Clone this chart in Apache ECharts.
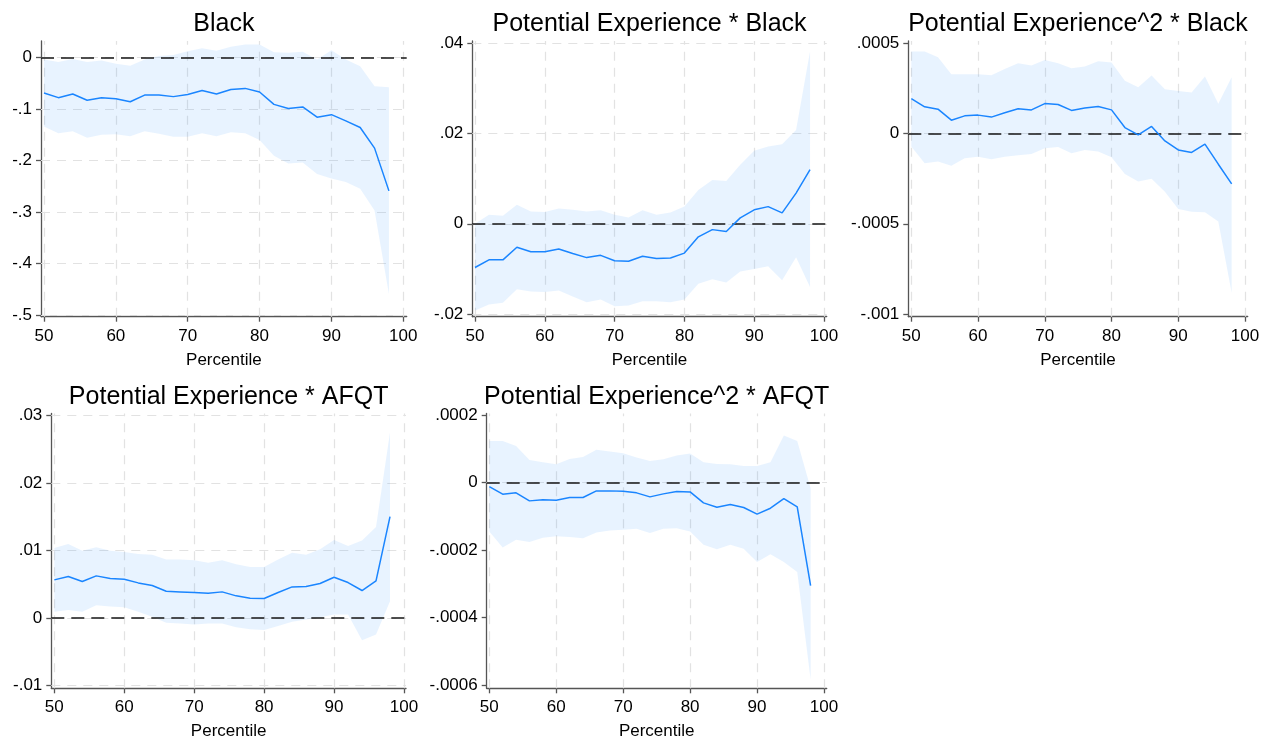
<!DOCTYPE html>
<html>
<head>
<meta charset="utf-8">
<script src="https://cdn.jsdelivr.net/npm/echarts@6.0.0/dist/echarts.min.js"></script>
<style>
  html, body { margin: 0; padding: 0; background: #fff; }
  #chart { width: 1276px; height: 745px; }
</style>
</head>
<body>
<div id="chart"></div>
<script>
const percentiles = [50, 52, 54, 56, 58, 60, 62, 64, 66, 68, 70, 72, 74, 76, 78, 80, 82, 84, 86, 88, 90, 92, 94, 96, 98];
const xTicks = [50, 60, 70, 80, 90, 100];

// Black
const blackCoef = [-0.069, -0.078, -0.071, -0.083, -0.078, -0.080, -0.086, -0.073, -0.073, -0.076, -0.072, -0.064, -0.071, -0.062, -0.060, -0.067, -0.091, -0.099, -0.096, -0.116, -0.111, -0.123, -0.136, -0.176, -0.259];
const blackHi = [-0.004, -0.009, -0.003, -0.009, -0.006, -0.012, -0.016, -0.004, 0.003, 0.005, 0.012, 0.018, 0.013, 0.021, 0.025, 0.025, 0.010, 0.009, 0.011, -0.004, 0.014, -0.004, -0.017, -0.056, -0.058];
const blackLo = [-0.134, -0.147, -0.143, -0.156, -0.150, -0.149, -0.153, -0.143, -0.148, -0.154, -0.154, -0.147, -0.153, -0.145, -0.147, -0.160, -0.191, -0.206, -0.204, -0.226, -0.235, -0.242, -0.255, -0.297, -0.459];
const blackTicks = [-0.5, -0.4, -0.3, -0.2, -0.1, 0];

// Potential Experience * Black
const expBlackCoef = [-0.0097, -0.0080, -0.0080, -0.0052, -0.0062, -0.0062, -0.0056, -0.0066, -0.0075, -0.0070, -0.0082, -0.0083, -0.0072, -0.0077, -0.0076, -0.0065, -0.0029, -0.0013, -0.0017, 0.0013, 0.0031, 0.0038, 0.0024, 0.0068, 0.0120];
const expBlackHi = [0.0000, 0.0020, 0.0018, 0.0042, 0.0027, 0.0026, 0.0034, 0.0031, 0.0027, 0.0030, 0.0020, 0.0014, 0.0030, 0.0020, 0.0025, 0.0038, 0.0075, 0.0097, 0.0095, 0.0131, 0.0162, 0.0171, 0.0176, 0.0208, 0.0382];
const expBlackLo = [-0.0192, -0.0179, -0.0175, -0.0145, -0.0150, -0.0151, -0.0148, -0.0161, -0.0174, -0.0168, -0.0183, -0.0181, -0.0172, -0.0172, -0.0174, -0.0168, -0.0133, -0.0123, -0.0130, -0.0106, -0.0100, -0.0094, -0.0125, -0.0074, -0.0140];
const expBlackTicks = [-0.02, 0, 0.02, 0.04];

// Potential Experience^2 * Black
const exp2BlackCoef = [0.000194, 0.000148, 0.000135, 0.000074, 0.000098, 0.000102, 0.000091, 0.000115, 0.000137, 0.000131, 0.000166, 0.000161, 0.000128, 0.000142, 0.000150, 0.000131, 0.000033, -0.000007, 0.000039, -0.000041, -0.000091, -0.000105, -0.000059, -0.000170, -0.000279];
const exp2BlackHi = [0.000455, 0.000455, 0.000423, 0.000329, 0.000329, 0.000329, 0.000323, 0.000357, 0.000390, 0.000377, 0.000407, 0.000390, 0.000362, 0.000372, 0.000401, 0.000394, 0.000292, 0.000257, 0.000322, 0.000246, 0.000235, 0.000227, 0.000316, 0.000165, 0.000312];
const exp2BlackLo = [-0.000072, -0.000165, -0.000155, -0.000179, -0.000137, -0.000128, -0.000142, -0.000128, -0.000120, -0.000113, -0.000081, -0.000074, -0.000109, -0.000091, -0.000100, -0.000131, -0.000224, -0.000266, -0.000250, -0.000322, -0.000418, -0.000433, -0.000436, -0.000488, -0.000882];
const exp2BlackTicks = [-0.001, -0.0005, 0, 0.0005];

// Potential Experience * AFQT
const expAfqtCoef = [0.00568, 0.00617, 0.00543, 0.00627, 0.00588, 0.00578, 0.00523, 0.00484, 0.00400, 0.00390, 0.00380, 0.00370, 0.00390, 0.00331, 0.00296, 0.00291, 0.00380, 0.00464, 0.00469, 0.00514, 0.00607, 0.00528, 0.00410, 0.00553, 0.01506];
const expAfqtHi = [0.0104, 0.0110, 0.0100, 0.0105, 0.0100, 0.0098, 0.0095, 0.0094, 0.0087, 0.0087, 0.0086, 0.0082, 0.0086, 0.0080, 0.0076, 0.0076, 0.0087, 0.0097, 0.0094, 0.0102, 0.0116, 0.0107, 0.0115, 0.0135, 0.0275];
const expAfqtLo = [0.00094, 0.00123, 0.00094, 0.00193, 0.00173, 0.00163, 0.00094, 0.00020, -0.00069, -0.00079, -0.00094, -0.00079, -0.00079, -0.00133, -0.00163, -0.00173, -0.00114, -0.00054, -0.00020, 0.00015, 0.00054, 0.00054, -0.00326, -0.00242, 0.00252];
const expAfqtTicks = [-0.01, 0, 0.01, 0.02, 0.03];

// Potential Experience^2 * AFQT
const exp2AfqtCoef = [-0.0000118, -0.0000345, -0.0000305, -0.0000542, -0.0000512, -0.0000522, -0.0000443, -0.0000443, -0.0000246, -0.0000246, -0.0000256, -0.0000305, -0.0000424, -0.0000335, -0.0000266, -0.0000276, -0.0000601, -0.0000729, -0.0000650, -0.0000739, -0.0000936, -0.0000759, -0.0000473, -0.0000719, -0.000305];
const exp2AfqtHi = [0.000123, 0.000123, 0.000108, 0.000067, 0.000060, 0.000054, 0.000070, 0.000076, 0.000097, 0.000092, 0.000087, 0.000074, 0.000064, 0.000069, 0.000080, 0.000086, 0.000060, 0.000055, 0.000054, 0.000049, 0.000049, 0.000060, 0.000139, 0.000123, -0.000017];
const exp2AfqtLo = [-0.000145, -0.000192, -0.000169, -0.000176, -0.000163, -0.000159, -0.000161, -0.000165, -0.000148, -0.000142, -0.000140, -0.000137, -0.000149, -0.000137, -0.000135, -0.000145, -0.000184, -0.000197, -0.000184, -0.000196, -0.000235, -0.000212, -0.000235, -0.000265, -0.000583];
const exp2AfqtTicks = [-0.0006, -0.0004, -0.0002, 0, 0.0002];

const FONT = "'Liberation Sans', Arial, Helvetica, sans-serif";
const LINE_COLOR = "#1a85ff";
const BAND_COLOR = "rgba(26, 133, 255, 0.10)";
const AXIS_COLOR = "#555555";

// layout of each subgraph (plot box in px) and the axis range it shows
const panels = [
  { title: "Black", coef: blackCoef, lo: blackLo, hi: blackHi, yTicks: blackTicks,
    box: { left: 41, top: 41, width: 365.7, height: 275.7 }, x: [49.583, 100.473], y: [-0.5033, 0.032] },
  { title: "Potential Experience * Black", coef: expBlackCoef, lo: expBlackLo, hi: expBlackHi, yTicks: expBlackTicks,
    box: { left: 472.3, top: 41, width: 354.4, height: 275.7 }, x: [49.613, 100.387], y: [-0.0206, 0.04051] },
  { title: "Potential Experience^2 * Black", coef: exp2BlackCoef, lo: exp2BlackLo, hi: exp2BlackHi, yTicks: exp2BlackTicks,
    box: { left: 908.3, top: 41, width: 339.4, height: 275.7 }, x: [49.55, 100.405], y: [-0.001015, 0.0005127] },
  { title: "Potential Experience * AFQT", coef: expAfqtCoef, lo: expAfqtLo, hi: expAfqtHi, yTicks: expAfqtTicks,
    box: { left: 51.3, top: 413.5, width: 354.7, height: 274.8 }, x: [49.571, 100.286], y: [-0.010385, 0.030326] },
  { title: "Potential Experience^2 * AFQT", coef: exp2AfqtCoef, lo: exp2AfqtLo, hi: exp2AfqtHi, yTicks: exp2AfqtTicks,
    box: { left: 486.7, top: 413.5, width: 340, height: 274.8 }, x: [49.612, 100.403], y: [-0.0006089, 0.0002044] },
];

const stataLabel = (v) => (v === 0 ? "0" : String(v).replace("0.", "."));

// whole CI band as one polygon: upper bound left->right, lower bound right->left
const bandRenderer = (p) => (params, api) => {
  if (params.dataIndex !== 0) return null;
  const upper = percentiles.map((x, k) => api.coord([x, p.hi[k]]));
  const lower = percentiles.map((x, k) => api.coord([x, p.lo[k]])).reverse();
  return {
    type: "polygon",
    shape: { points: upper.concat(lower) },
    style: { fill: BAND_COLOR },
    silent: true,
  };
};

const grids = [];
const xAxes = [];
const yAxes = [];
const titles = [];
const series = [];

panels.forEach((p, i) => {
  grids.push({ ...p.box, containLabel: false });

  titles.push({
    text: p.title,
    left: p.box.left + p.box.width / 2,
    top: p.box.top - 29,
    textAlign: "center",
    padding: 0,
    textStyle: { fontFamily: FONT, fontSize: 25, fontWeight: "normal", color: "#000" },
  });

  xAxes.push({
    type: "value",
    gridIndex: i,
    min: p.x[0],
    max: p.x[1],
    name: "Percentile",
    nameLocation: "middle",
    nameGap: 35,
    nameTextStyle: { fontFamily: FONT, fontSize: 17, color: "#000" },
    axisLine: { show: true, onZero: false, lineStyle: { color: AXIS_COLOR, width: 1.3 } },
    axisTick: { show: true, length: 5, customValues: xTicks, lineStyle: { color: AXIS_COLOR, width: 1.3 } },
    axisLabel: { customValues: xTicks, fontFamily: FONT, fontSize: 17, color: "#000", margin: 11 },
    splitLine: { show: false },
  });

  yAxes.push({
    type: "value",
    gridIndex: i,
    min: p.y[0],
    max: p.y[1],
    axisLine: { show: true, onZero: false, lineStyle: { color: AXIS_COLOR, width: 1.3 } },
    axisTick: { show: true, length: 5, customValues: p.yTicks, lineStyle: { color: AXIS_COLOR, width: 1.3 } },
    axisLabel: {
      customValues: p.yTicks,
      formatter: stataLabel,
      fontFamily: FONT, fontSize: 17, color: "#000", margin: 9,
    },
    splitLine: { show: false },
  });

  // CI band, also carries the dashed grid lines underneath it
  series.push({
    type: "custom",
    xAxisIndex: i,
    yAxisIndex: i,
    data: percentiles.map((x, k) => [x, p.lo[k], p.hi[k]]),
    encode: { x: 0, y: [1, 2] },
    renderItem: bandRenderer(p),
    silent: true,
    z: 2,
    markLine: {
      silent: true,
      symbol: ["none", "none"],
      label: { show: false },
      z: 1,
      lineStyle: { color: "#e2e2e2", type: [9, 7], width: 1.2 },
      data: xTicks.map((v) => ({ xAxis: v })).concat(p.yTicks.map((v) => ({ yAxis: v }))),
    },
  });

  // point estimate + zero reference line
  series.push({
    type: "line",
    xAxisIndex: i,
    yAxisIndex: i,
    data: percentiles.map((x, k) => [x, p.coef[k]]),
    symbol: "none",
    lineStyle: { color: LINE_COLOR, width: 1.5 },
    z: 4,
    markLine: {
      silent: true,
      symbol: ["none", "none"],
      label: { show: false },
      z: 3,
      lineStyle: { color: "#151515", type: [13, 7], width: 1.5 },
      data: [{ yAxis: 0 }],
    },
  });
});

const chart = echarts.init(document.getElementById("chart"), null, { renderer: "canvas" });
chart.setOption({
  animation: false,
  backgroundColor: "#ffffff",
  title: titles,
  grid: grids,
  xAxis: xAxes,
  yAxis: yAxes,
  series,
});
</script>
</body>
</html>
